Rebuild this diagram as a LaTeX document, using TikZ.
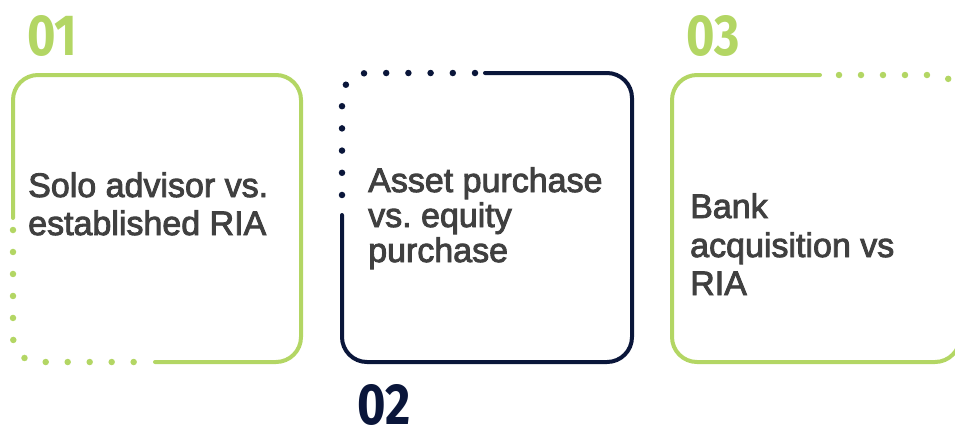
\documentclass[tikz,border=0pt]{standalone}
\usepackage{fontspec}
\setmainfont{Liberation Sans}
\newfontfamily\cardfont[FakeBold=2.6]{Liberation Sans}
\newfontfamily\numfont[FakeStretch=0.84]{Fira Sans}
\frenchspacing
\definecolor{leaf}{RGB}{179,214,100}
\definecolor{navy}{RGB}{10,22,58}
\definecolor{txtgray}{RGB}{64,64,64}
\begin{document}
\begin{tikzpicture}[x=1pt,y=-1pt,
  frame/.style={line width=4pt, rounded corners=25pt, line cap=round},
  dotrun/.style={line width=6.5pt, line cap=round, rounded corners=25pt,
                 dash pattern=on 0pt off #1},
  line/.style={anchor=base west, inner sep=0pt, text=txtgray,
               font=\cardfont\fontsize{34}{38}\selectfont},
  num/.style={anchor=base west, inner sep=0pt,
              font=\numfont\bfseries\fontsize{58}{58}\selectfont}]
\useasboundingbox (0,0) rectangle (955,432);
\clip (0,0) rectangle (955,432);

% card 01: green frame, dotted lower-left corner
\draw[frame, leaf] (155,362) -- (301,362) -- (301,75) -- (13,75) -- (13,218);
\draw[dotrun=21.99pt, leaf] (13,230) -- (13,362) -- (134,362);
\node[num, text=leaf] (n1) at (27,55) {01};
\node[line] (t1a) at (28,197) {Solo advisor vs.};
\node[line] (t1b) at (28,235) {established RIA};

% card 02: navy frame, dotted upper-left corner
\draw[frame, navy] (485,73) -- (632,73) -- (632,362) -- (342,362) -- (342,215);
\draw[dotrun=22.2pt, navy] (475,73) -- (342,73) -- (342,195);
\node[num, text=navy] (n2) at (357,424) {02};
\node[line] (t2a) at (368,192) {Asset purchase};
\node[line] (t2b) at (368,227) {vs. equity};
\node[line] (t2c) at (368,262) {purchase};

% card 03: green frame, dotted upper-right corner
\draw[frame, leaf] (820,75) -- (672,75) -- (672,362) -- (960,362) -- (960,230);
\draw[dotrun=21.99pt, leaf] (839,75) -- (960,75) -- (960,218);
\node[num, text=leaf] (n3) at (686,55) {03};
\node[line] (t3a) at (690,218) {Bank};
\node[line] (t3b) at (690,257) {acquisition vs};
\node[line] (t3c) at (690,295) {RIA};
\end{tikzpicture}
\end{document}
